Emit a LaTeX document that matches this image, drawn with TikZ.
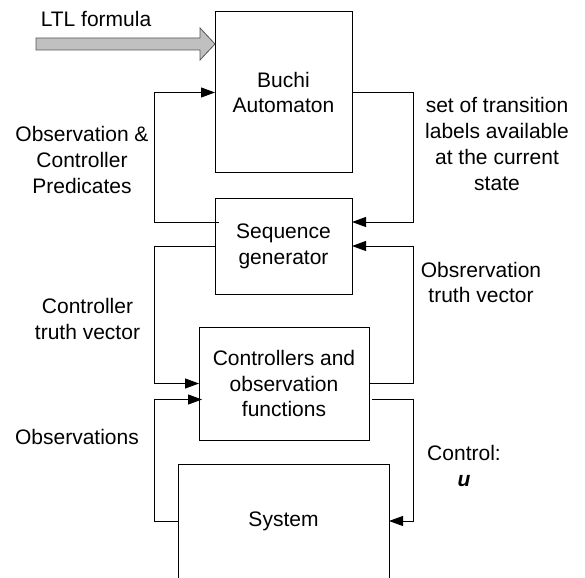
\documentclass[tikz,border=0pt]{standalone}
\usepackage{fontspec}
\setmainfont{Liberation Sans}
\usetikzlibrary{arrows.meta,calc}
\definecolor{fatfill}{HTML}{C0C0C0}
\definecolor{fatline}{HTML}{555555}
\begin{document}
\begin{tikzpicture}[x=1pt,y=-1pt,
  every node/.style={font=\fontsize{21}{25.7}\selectfont, align=center, inner sep=0pt, outer sep=0pt},
  blk/.style={draw, line width=1pt},
  arr/.style={line width=1pt, -{Triangle[length=14pt,width=10pt]}},
  lbl/.style={}
]
\useasboundingbox (0,0) rectangle (585,577);
% boxes
\node[blk, minimum width=137pt, minimum height=161pt] (buchi) at (283.5,92.5) {Buchi\\Automaton};
\node[blk, minimum width=137pt, minimum height=96pt] (seq) at (283.5,246) {Sequence\\generator};
\node[blk, minimum width=170pt, minimum height=113pt] (ctrl) at (284,383.5) {Controllers and\\observation\\functions};
\node[minimum width=211pt, minimum height=114pt] (sys) at (283.5,521) {System};
\draw[line width=1pt] (sys.south west) -- (sys.north west) -- (sys.north east) -- (sys.south east);
% rails
\coordinate (L) at (154,0);
\coordinate (R) at (413,0);
% fat LTL arrow
\node[lbl] (ltl) at (96,19) {LTL formula};
\coordinate (tip) at ($(buchi.north west)+(0,32)$);
\draw[fill=fatfill, draw=fatline, line width=0.8pt]
  (36,38) -- (200,38) -- (200,28) -- (tip) -- (200,60) -- (200,50) -- (36,50) -- cycle;
% connectors
\draw[arr] ($(seq.west)+(4,-24)$) -| (L |- buchi.west) -- (buchi.west);
\draw[arr] (buchi.east) -| ($(R |- seq.east)+(0,-24)$) -- ($(seq.east)+(0,-24)$);
\draw[arr] (seq.west) -| (L |- ctrl.west) -- (ctrl.west);
\draw[arr] (ctrl.east) -| (R |- seq.east) -- (seq.east);
\draw[arr] (sys.west) -| ($(L |- ctrl.west)+(0,16)$) -- ($(ctrl.west)+(3,16)$);
\draw[arr] ($(ctrl.east)+(3,16)$) -| (R |- sys.east) -- (sys.east);
% labels
\node[lbl] (lobs) at (82,160) {Observation \&\\Controller\\Predicates};
\node[lbl] (lset) at (497,144) {set of transition\\labels available\\at the current\\state};
\node[lbl] (lotv) at (481,282.5) {Obsrervation\\truth vector};
\node[lbl] (lctv) at (87.5,319) {Controller\\truth vector};
\node[lbl] (lobsv) at (77,437) {Observations};
\node[lbl] (lu) at (464,466) {Control:\\\textbf{\textit{u}}};
\end{tikzpicture}
\end{document}
